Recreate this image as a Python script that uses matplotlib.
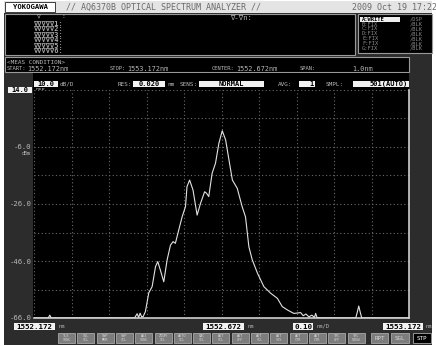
import matplotlib
matplotlib.use("Agg")
import matplotlib.pyplot as plt
from matplotlib.patches import Rectangle

# Trace: wavelength (nm) and level (dBm)
wavelength = [1552.172, 1552.210, 1552.214, 1552.218, 1552.440, 1552.447, 1552.451,
              1552.455, 1552.459, 1552.463, 1552.469, 1552.478, 1552.487, 1552.496,
              1552.502, 1552.509, 1552.518, 1552.527, 1552.536, 1552.543, 1552.549,
              1552.558, 1552.567, 1552.576, 1552.580, 1552.587, 1552.596, 1552.607,
              1552.616, 1552.627, 1552.632, 1552.638, 1552.647, 1552.656, 1552.665,
              1552.674, 1552.683, 1552.692, 1552.701, 1552.714, 1552.727, 1552.736,
              1552.745, 1552.754, 1552.768, 1552.785, 1552.803, 1552.821, 1552.834,
              1552.848, 1552.865, 1552.883, 1552.890, 1552.897, 1552.905, 1552.913,
              1552.920, 1552.923, 1552.927, 1552.940, 1553.030, 1553.034, 1553.038,
              1553.042, 1553.046, 1553.172]
level_dbm = [-66.0, -66.0, -65.0, -66.0, -66.0, -64.5, -65.8,
             -64.3, -65.6, -65.5, -63.8, -57.2, -55.0, -48.0,
             -46.2, -49.2, -53.3, -45.6, -40.4, -39.2, -39.8,
             -35.1, -30.5, -26.9, -19.9, -17.6, -21.1, -29.9,
             -25.8, -21.7, -22.2, -23.4, -15.2, -11.7, -4.7,
             -0.3, -3.5, -10.6, -17.6, -20.5, -26.9, -30.5,
             -41.0, -45.6, -50.3, -55.0, -57.3, -59.1, -62.0,
             -63.2, -64.4, -64.1, -65.2, -64.6, -65.6, -65.0,
             -65.8, -64.4, -65.9, -66.0, -66.0, -64.0, -61.8,
             -64.0, -66.0, -66.0]

start_nm, center_nm, stop_nm = 1552.172, 1552.672, 1553.172
ref_dbm, scale_db = 14.0, 10.0
ytick_values = [-66.0, -46.0, -26.0, -6.0]
marker_rows = ["A:WRITE", "B:FIX", "C:FIX", "D:FIX", "E:FIX", "F:FIX", "G:FIX"]
marker_modes = ["/DSP", "/BLK", "/BLK", "/BLK", "/BLK", "/BLK", "/BLK"]

W, H = 436, 346
MONO = "DejaVu Sans Mono"
GRAY_BG = "#2c2c2c"
TXT = "#b8b8b8"

fig = plt.figure(figsize=(W / 100, H / 100), dpi=100, facecolor="white")
bg = fig.add_axes([0, 0, 1, 1])
bg.set_xlim(0, W)
bg.set_ylim(H, 0)
bg.axis("off")


def rect(x0, y0, x1, y1, fc, ec="none", lw=0.0, z=1):
    bg.add_patch(Rectangle((x0, y0), x1 - x0, y1 - y0, facecolor=fc,
                           edgecolor=ec, linewidth=lw, zorder=z))


def txt(x, y, s, size=4.6, color=TXT, ha="left", z=5, **kw):
    bg.text(x, y, s, fontsize=size, color=color, ha=ha, va="center",
            family=MONO, zorder=z, **kw)


def boxed(x0, x1, y0, y1, s, size=4.6, ha="center"):
    rect(x0, y0, x1, y1, "#f2f2f2", z=3)
    tx = (x0 + x1) / 2 if ha == "center" else x1 - 1
    txt(tx, (y0 + y1) / 2 + 0.3, s, size=size, color="black", ha=ha, weight="bold")


# instrument screen
rect(4, 1, 432, 345, GRAY_BG)

# title bar
rect(4, 1, 432, 13, "#e4e4e4", z=2)
rect(5, 2, 55, 12, "white", ec="#202020", lw=0.6, z=3)
txt(30, 7.2, "YOKOGAWA", size=5.2, color="black", ha="center", weight="bold")
txt(66, 7.2, "// AQ6370B OPTICAL SPECTRUM ANALYZER //", size=6.0, color="#6a6a6a")
txt(352, 7.2, "2009 Oct 19 17:22", size=6.0, color="#6a6a6a")

# marker panels
rect(5, 14, 355, 55, "black", ec="#9a9a9a", lw=0.8, z=2)
rect(358, 14, 432, 53, "black", ec="#9a9a9a", lw=0.8, z=2)
txt(36, 16, "\u2207", size=4.6)
txt(61, 16, ":", size=4.6)
for i, y in enumerate([24, 29.3, 34.8, 40.2, 45.7, 51.2]):
    txt(63, y, "\u2207\u2207\u2207\u2207\u2207" + str(i + 1) + ":", size=5.0,
        color="#a8a8a8", ha="right", weight="bold")
txt(230, 17.5, "\u2207-\u2207n:", size=5.2)
for i, (lab, mode) in enumerate(zip(marker_rows, marker_modes)):
    y = 19.3 + i * 4.85
    if i == 0:
        rect(360, y - 2.3, 400, y + 2.3, "#eeeeee", z=3)
        txt(362, y, lab, size=3.9, color="black", weight="bold")
    else:
        txt(362, y, lab, size=3.9, color="#8a8a8a")
    txt(410, y, mode, size=3.9, color="#8a8a8a")

# measurement condition box
rect(5, 57, 409, 72, "black", ec="#9a9a9a", lw=0.8, z=2)
txt(7, 62, "<MEAS CONDITION>", size=4.3)
for x, lab, val in [(7, "START:", "1552.172nm"), (110, "STOP:", "1553.172nm"),
                    (212, "CENTER:", "1552.672nm")]:
    txt(x, 69, lab, size=4.0)
    txt(x + len(lab) * 3.35 + 0.5, 68.6, val, size=4.9)
txt(300, 69, "SPAN:", size=4.0)
txt(352, 68.6, "1.0nm", size=4.9)

# settings row and plot background
rect(33, 73, 409, 318, "black", z=2)
boxed(34, 58, 80.5, 87, "10.0", size=5.0)
txt(60, 84, "dB/D", size=4.3)
txt(118, 84, "RES:", size=4.3)
boxed(133, 165, 80.5, 87, "0.020", size=5.0)
txt(167, 84, "nm", size=4.3)
txt(180, 84, "SENS:", size=4.3)
boxed(199, 264, 80.5, 87, "NORMAL", size=5.0)
txt(278, 84, "AVG:", size=4.3)
boxed(299, 315, 80.5, 87, "1", size=5.0, ha="right")
txt(326, 84, "SMPL:", size=4.3)
boxed(353, 409, 80.5, 87, "501(AUTO)", size=5.0, ha="right")
boxed(8, 32, 87, 93, "14.0", size=5.0)
txt(36, 90, "REF", size=3.9)

# spectrum axes
ax = fig.add_axes([34 / W, (H - 318) / H, (409 - 34) / W, (318 - 90) / H])
ax.set_facecolor("black")
ax.set_zorder(3)
ax.set_xlim(start_nm, stop_nm)
ax.set_ylim(ref_dbm - 8 * scale_db, ref_dbm)
ax.set_xticks([start_nm + 0.1 * k for k in range(11)])
yt = [ref_dbm - scale_db * k for k in range(9)][::-1]
ax.set_yticks(yt)
ax.set_yticklabels([f"{v:.1f}" if v in ytick_values else "" for v in yt],
                   family=MONO, fontsize=5.2, color=TXT)
ax.tick_params(axis="y", length=0, pad=2)
ax.tick_params(axis="x", length=0, labelbottom=False)
ax.grid(True, color="#6a6a6a", linestyle=(0, (1, 2.2)), linewidth=0.8)
for side in ("top", "left"):
    ax.spines[side].set_visible(False)
for side in ("right", "bottom"):
    ax.spines[side].set_color("#cfcfcf")
    ax.spines[side].set_linewidth(1.2)
ax.plot(wavelength, level_dbm, color="#e2e2e2", linewidth=0.8, zorder=4,
        clip_on=True)
ax.text(-0.008, (-6.0 - (ref_dbm - 80)) / 80 - 0.027, "dBm", transform=ax.transAxes,
        fontsize=3.6, color=TXT, ha="right", va="center", family=MONO)

# wavelength readouts
boxed(14, 55, 322.5, 330, "1552.172", size=5.4)
txt(58, 326.5, "nm", size=4.0)
boxed(203, 244, 322.5, 330, "1552.672", size=5.4)
txt(247, 326.5, "nm", size=4.0)
boxed(293, 313, 322.5, 330, "0.10", size=5.4, ha="right")
txt(316, 326.5, "nm/D", size=4.0)
boxed(383, 423, 322.5, 330, "1553.172", size=5.4)
txt(425, 326.5, "nm", size=4.0)

# soft-key row
soft_keys = ["TLS\nSYNC", "SGL\nSCL", "SWP\nMKR", "SWP\nSCL", "ADJ\nSYNC", "ZOOM\nSCL",
             "AUTO\nSCL", "VAC\nSCL", "AUT\nSCL", "AUT\nOFF", "AUT\nSCL", "AUT\nSTS",
             "AUT\nCTR", "AUT\nCTR", "TRC\nOFF", "TRC\nVIEW"]
for i, key in enumerate(soft_keys):
    x0 = 58 + i * 19.3
    rect(x0, 333, x0 + 17, 343, "#7d7d7d", ec="#a8a8a8", lw=0.6, z=2)
    txt(x0 + 8.5, 338, key, size=2.6, color="#d6d6d6", ha="center", linespacing=0.9)
for x0, x1, lab, fc, tc in [(371, 388, "RPT", "#7d7d7d", "#d8d8d8"),
                            (391, 409, "SGL", "#7d7d7d", "#d8d8d8"),
                            (413, 431, "STP", "black", "white")]:
    rect(x0, 333, x1, 343, fc, ec="#a8a8a8", lw=0.6, z=2)
    txt((x0 + x1) / 2, 338.3, lab, size=4.2, color=tc, ha="center")

fig.savefig("out.png", dpi=100, facecolor="white")
